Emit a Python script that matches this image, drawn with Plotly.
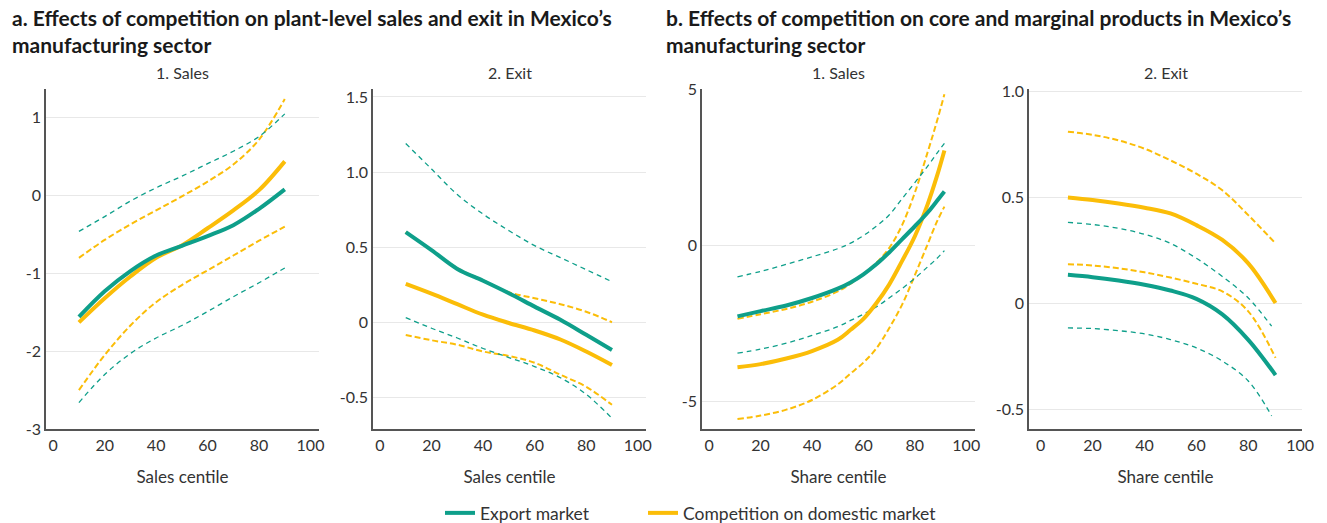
import plotly.graph_objects as go

# ---------------- data ----------------
a_x = [10, 20, 30, 40, 50, 60, 70, 80, 90]

a1_export = [-1.56, -1.23, -0.97, -0.77, -0.645, -0.52, -0.38, -0.17, 0.08]
a1_export_hi = [-0.46, -0.27, -0.07, 0.10, 0.25, 0.41, 0.57, 0.76, 1.05]
a1_export_lo = [-2.66, -2.30, -2.03, -1.83, -1.67, -1.49, -1.30, -1.12, -0.93]
a1_domestic = [-1.63, -1.32, -1.04, -0.80, -0.64, -0.42, -0.19, 0.07, 0.44]
a1_domestic_hi = [-0.80, -0.57, -0.37, -0.19, -0.01, 0.18, 0.40, 0.72, 1.24]
a1_domestic_lo = [-2.50, -2.05, -1.67, -1.37, -1.15, -0.96, -0.77, -0.58, -0.40]

a2_export = [0.60, 0.48, 0.355, 0.276, 0.193, 0.104, 0.016, -0.084, -0.185]
a2_export_hi = [1.19, 1.02, 0.85, 0.72, 0.61, 0.51, 0.43, 0.35, 0.27]
a2_export_lo = [0.03, -0.04, -0.105, -0.175, -0.235, -0.295, -0.37, -0.48, -0.64]
a2_domestic = [0.255, 0.19, 0.12, 0.05, -0.005, -0.055, -0.115, -0.195, -0.285]
a2_domestic_hi = [0.60, 0.48, 0.36, 0.28, 0.20, 0.16, 0.12, 0.07, 0.0]
a2_domestic_lo = [-0.085, -0.12, -0.15, -0.195, -0.225, -0.27, -0.35, -0.43, -0.55]

b1_x = [11, 20, 30, 40, 50, 55, 60, 65, 70, 75, 80, 85, 88.5, 91.5]
b1_export = [-2.27, -2.10, -1.92, -1.68, -1.38, -1.18, -0.92, -0.60, -0.22, 0.20, 0.62, 1.06, 1.42, 1.73]
b1_export_hi = [-1.00, -0.83, -0.60, -0.36, -0.10, 0.08, 0.32, 0.62, 0.98, 1.50, 2.02, 2.55, 2.95, 3.28]
b1_export_lo = [-3.45, -3.32, -3.13, -2.88, -2.60, -2.40, -2.20, -1.97, -1.68, -1.38, -1.05, -0.68, -0.42, -0.16]
b1_domestic = [-3.90, -3.80, -3.62, -3.38, -3.02, -2.70, -2.35, -1.85, -1.25, -0.50, 0.30, 1.33, 2.20, 3.05]
b1_domestic_hi = [-2.35, -2.20, -2.03, -1.80, -1.47, -1.22, -0.92, -0.55, -0.08, 0.65, 1.70, 3.00, 3.96, 4.85]
b1_domestic_lo = [-5.56, -5.45, -5.26, -4.95, -4.45, -4.10, -3.75, -3.30, -2.65, -1.90, -0.95, 0.05, 0.75, 1.25]

b2_x = [10.5, 20, 30, 40, 50, 60, 70, 80, 90.5]
b2_x_export_band = [10.5, 20, 30, 40, 50, 60, 70, 80, 89]
b2_export = [0.136, 0.125, 0.109, 0.089, 0.062, 0.023, -0.05, -0.17, -0.336]
b2_export_hi = [0.383, 0.373, 0.355, 0.327, 0.284, 0.214, 0.128, 0.027, -0.106]
b2_export_lo = [-0.114, -0.117, -0.127, -0.142, -0.169, -0.208, -0.27, -0.364, -0.528]
b2_domestic = [0.50, 0.488, 0.472, 0.452, 0.425, 0.37, 0.30, 0.19, 0.003]
b2_domestic_hi = [0.81, 0.795, 0.769, 0.73, 0.675, 0.612, 0.534, 0.417, 0.284]
b2_domestic_lo = [0.186, 0.18, 0.167, 0.148, 0.123, 0.094, 0.058, -0.036, -0.255]

x_ticks = [0, 20, 40, 60, 80, 100]
a1_yticks = [-3, -2, -1, 0, 1]
a1_yticklabels = ["-3", "-2", "-1", "0", "1"]
a2_yticks = [-0.5, 0, 0.5, 1.0, 1.5]
a2_yticklabels = ["-0.5", "0", "0.5", "1.0", "1.5"]
b1_yticks = [-5, 0, 5]
b1_yticklabels = ["-5", "0", "5"]
b2_yticks = [-0.5, 0, 0.5, 1.0]
b2_yticklabels = ["-0.5", "0", "0.5", "1.0"]

series_names = ["Export market", "Competition on domestic market"]
panel_a_title = "a. Effects of competition on plant-level sales and exit in Mexico’s<br>manufacturing sector"
panel_b_title = "b. Effects of competition on core and marginal products in Mexico’s<br>manufacturing sector"
sub_titles = ["1. Sales", "2. Exit", "1. Sales", "2. Exit"]
x_titles = ["Sales centile", "Sales centile", "Share centile", "Share centile"]

# ---------------- style ----------------
TEAL = "#0e9f8a"
YELLOW = "#fbbd08"
FONT = "Lato, 'Open Sans', sans-serif"
W, H = 1327, 523

fig = go.Figure()

panels = [
    (a_x, a_x, a_x, a1_export, a1_export_hi, a1_export_lo, a1_domestic, a1_domestic_hi, a1_domestic_lo),
    (a_x, a_x, a_x, a2_export, a2_export_hi, a2_export_lo, a2_domestic, a2_domestic_hi, a2_domestic_lo),
    (b1_x, b1_x, b1_x, b1_export, b1_export_hi, b1_export_lo, b1_domestic, b1_domestic_hi, b1_domestic_lo),
    (b2_x, b2_x_export_band, b2_x, b2_export, b2_export_hi, b2_export_lo, b2_domestic, b2_domestic_hi, b2_domestic_lo),
]

for i, (xs, xeb, xdb, ex, exh, exl, do, doh, dol) in enumerate(panels):
    xa = "x" if i == 0 else f"x{i+1}"
    ya = "y" if i == 0 else f"y{i+1}"
    common = dict(xaxis=xa, yaxis=ya, mode="lines", line_shape="spline", hoverinfo="skip", showlegend=False)
    for yy in (doh, dol):
        fig.add_trace(go.Scatter(x=xdb, y=yy, line=dict(color=YELLOW, width=2, dash="6px,3px"), **common))
    for yy in (exh, exl):
        fig.add_trace(go.Scatter(x=xeb, y=yy, line=dict(color=TEAL, width=1.3, dash="5px,4px"), **common))
    fig.add_trace(go.Scatter(x=xs, y=do, line=dict(color=YELLOW, width=4), **common))
    fig.add_trace(go.Scatter(x=xs, y=ex, line=dict(color=TEAL, width=4), **common))

# legend traces
fig.add_trace(go.Scatter(x=[None], y=[None], mode="lines", name=series_names[0],
                         line=dict(color=TEAL, width=4), xaxis="x", yaxis="y", legend="legend"))
fig.add_trace(go.Scatter(x=[None], y=[None], mode="lines", name=series_names[1],
                         line=dict(color=YELLOW, width=4), xaxis="x", yaxis="y", legend="legend2"))

# axes geometry (pixels)
x_px = [(46, 319), (373, 646), (702, 975), (1029, 1302)]
x_ranges = [[-2.8, 103.3], [-2.7, 103.2], [-2.8, 103.4], [-4.5, 100.7]]
y_ranges = [[-3, 1.37], [-0.711, 1.553], [-5.88, 5.02], [-0.59, 1.011]]
y_ticks = [(a1_yticks, a1_yticklabels), (a2_yticks, a2_yticklabels),
           (b1_yticks, b1_yticklabels), (b2_yticks, b2_yticklabels)]
y_dom = [1 - 429 / H, 1 - 89 / H]

legend_common = dict(orientation="h", xanchor="left", y=10 / H, yanchor="middle",
                     font=dict(size=17.5, color="#333333"), itemwidth=30,
                     bgcolor="rgba(0,0,0,0)")
layout = dict(
    width=W, height=H,
    margin=dict(l=0, r=0, t=0, b=0, autoexpand=False),
    paper_bgcolor="white", plot_bgcolor="white",
    font=dict(family=FONT, color="#333333", size=16),
    showlegend=True,
    legend=dict(x=440 / W, **legend_common),
    legend2=dict(x=643 / W, **legend_common),
)

for i in range(4):
    k = "" if i == 0 else str(i + 1)
    l, r = x_px[i]
    layout[f"xaxis{k}"] = dict(
        domain=[l / W, r / W], range=x_ranges[i], anchor=f"y{k}",
        tickvals=x_ticks, ticktext=[str(t) for t in x_ticks],
        showgrid=False, zeroline=False, showline=True, linecolor="#555555", linewidth=1.5,
        ticks="", tickfont=dict(size=16, color="#333333"), automargin=False,
        ticklabelstandoff=1,
        title=dict(text=x_titles[i], font=dict(size=17, color="#333333"), standoff=18),
        fixedrange=True,
    )
    layout[f"yaxis{k}"] = dict(
        domain=y_dom, range=y_ranges[i], anchor=f"x{k}",
        tickvals=y_ticks[i][0], ticktext=y_ticks[i][1],
        showgrid=True, gridcolor="#e8e8e8", gridwidth=1, zeroline=False,
        showline=True, linecolor="#555555", linewidth=1.5, ticks="",
        tickfont=dict(size=16, color="#333333"), automargin=False, fixedrange=True,
    )

annotations = [
    dict(text="<b>" + panel_a_title.replace("<br>", "</b><br><b>") + "</b>", x=10 / W, y=1 - 3 / H,
         xref="paper", yref="paper", xanchor="left", yanchor="top", align="left",
         showarrow=False, font=dict(size=21, color="#1a1a1a", family=FONT)),
    dict(text="<b>" + panel_b_title.replace("<br>", "</b><br><b>") + "</b>", x=664 / W, y=1 - 3 / H,
         xref="paper", yref="paper", xanchor="left", yanchor="top", align="left",
         showarrow=False, font=dict(size=21, color="#1a1a1a", family=FONT)),
]
for i in range(4):
    l, r = x_px[i]
    annotations.append(dict(text=sub_titles[i], x=(l + r) / 2 / W, y=1 - 72 / H,
                            xref="paper", yref="paper", xanchor="center", yanchor="middle",
                            showarrow=False, font=dict(size=16, color="#333333", family=FONT)))
layout["annotations"] = annotations

fig.update_layout(**layout)
fig.write_html("out.html", config={"displayModeBar": False},
               post_script="document.body.style.margin='0';document.body.style.overflow='hidden';")
